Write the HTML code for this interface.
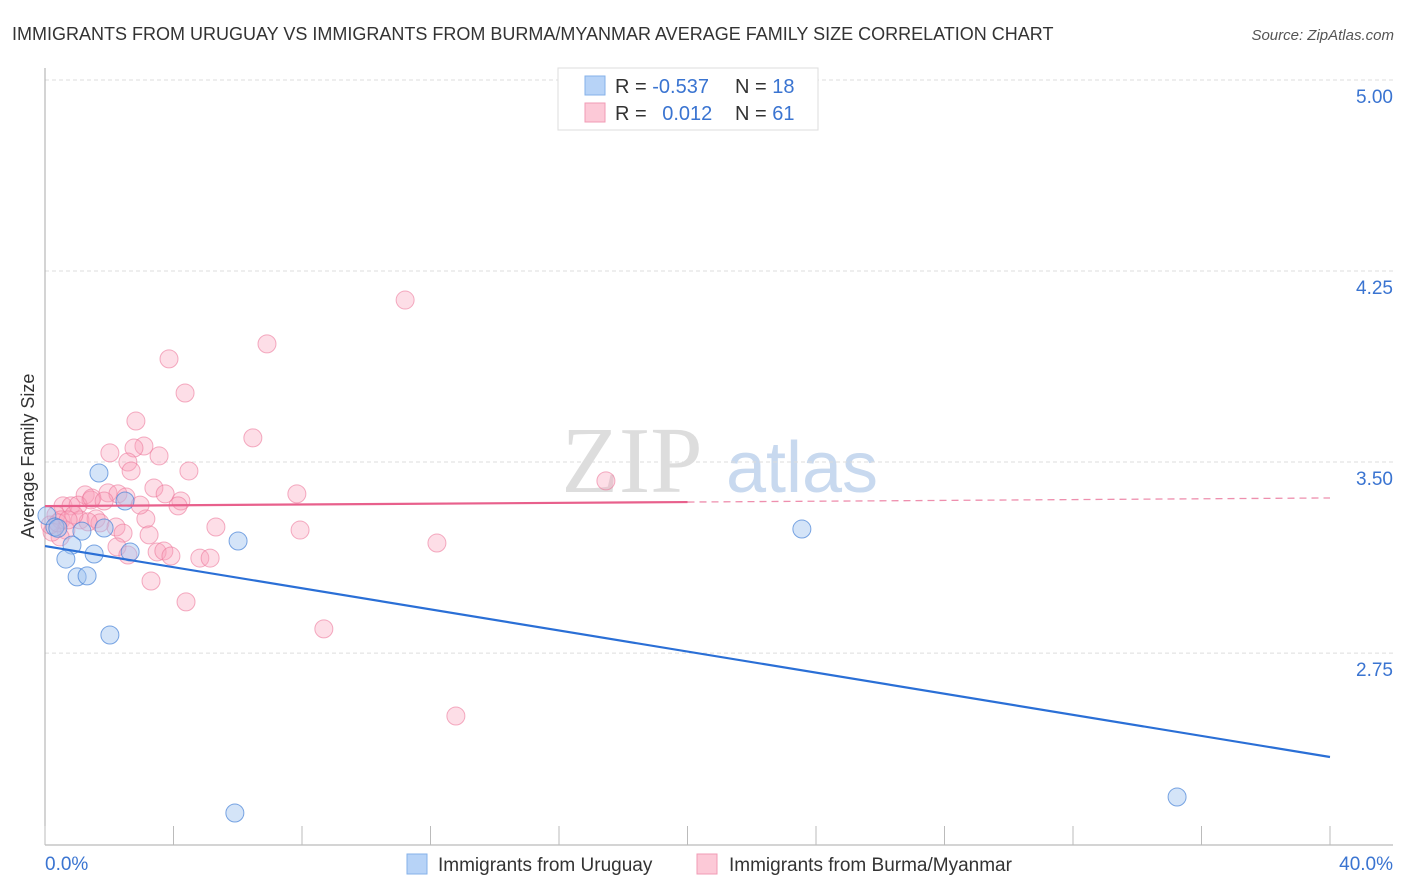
<!DOCTYPE html>
<html><head><meta charset="utf-8">
<style>
body{margin:0;background:#fff;font-family:"Liberation Sans",sans-serif;}
svg{display:block}
</style></head>
<body>
<svg id="chart" width="1406" height="892" xmlns="http://www.w3.org/2000/svg">
<text x="12" y="40" font-size="18" fill="#333">IMMIGRANTS FROM URUGUAY VS IMMIGRANTS FROM BURMA/MYANMAR AVERAGE FAMILY SIZE CORRELATION CHART</text>
<text x="1394" y="40" font-size="15" fill="#555" font-style="italic" text-anchor="end">Source: ZipAtlas.com</text>
<g>
<text x="632" y="492" font-family="Liberation Serif,serif" font-size="94" fill="#ddd" text-anchor="middle">ZIP</text>
<text x="802" y="492" font-size="72" fill="#c8d9ef" text-anchor="middle">atlas</text>
</g>
<g id="grid"></g>
<g id="axes"></g>
<g id="marks"></g>
<text transform="translate(34,456) rotate(-90)" font-size="18" fill="#333" text-anchor="middle">Average Family Size</text>
<g>
<rect x="558" y="68" width="260" height="62" fill="#fff" stroke="#ddd"/>
<rect x="585" y="76" width="20" height="19" fill="#b7d3f7" stroke="#86b1e9"/>
<rect x="585" y="103" width="20" height="19" fill="#fcc9d7" stroke="#f19bb4"/>
<text x="615" y="93" font-size="20" fill="#333">R = <tspan fill="#3a74d1">-0.537</tspan></text>
<text x="735" y="93" font-size="20" fill="#333">N = <tspan fill="#3a74d1">18</tspan></text>
<text x="615" y="120" font-size="20" fill="#333">R = <tspan fill="#3a74d1" dx="10">0.012</tspan></text>
<text x="735" y="120" font-size="20" fill="#333">N = <tspan fill="#3a74d1">61</tspan></text>
</g>
<g>
<rect x="407" y="854" width="20" height="20" fill="#b7d3f7" stroke="#86b1e9"/>
<text x="438" y="871" font-size="19" fill="#333">Immigrants from Uruguay</text>
<rect x="697" y="854" width="20" height="20" fill="#fcc9d7" stroke="#f19bb4"/>
<text x="729" y="871" font-size="19" fill="#333">Immigrants from Burma/Myanmar</text>
</g>
</svg>
<script>
const yTicks=[5.00,4.25,3.50,2.75];
const yTickLabels=["5.00","4.25","3.50","2.75"];
const xTickCount=11;
const xTickLabels=["0.0%","40.0%"];
const uruguayX=[0.06,0.31,0.40,1.68,2.49,1.15,1.84,0.84,0.65,1.53,2.65,1.00,1.31,2.02,6.01,23.56,35.24,5.91];
const uruguayY=[3.29,3.245,3.24,3.457,3.347,3.229,3.241,3.174,3.119,3.139,3.147,3.049,3.053,2.821,3.190,3.237,2.185,2.122];
const burmaX=[11.21,6.91,3.86,4.36,2.83,6.47,3.08,2.77,3.55,2.58,2.02,4.48,2.68,17.46,3.39,7.84,3.74,4.23,4.14,1.96,2.27,2.52,1.25,1.43,0.56,0.81,1.03,1.46,1.84,0.34,0.50,1.09,1.59,1.71,3.14,5.32,7.94,0.65,0.47,0.22,0.16,2.21,3.24,2.43,2.24,2.58,3.49,3.70,3.92,4.82,5.14,12.20,3.30,4.39,8.68,12.79,1.34,0.90,0.40,0.72,2.96];
const burmaY=[4.136,3.964,3.905,3.771,3.661,3.595,3.563,3.555,3.524,3.500,3.536,3.465,3.465,3.426,3.398,3.375,3.375,3.347,3.328,3.379,3.375,3.363,3.371,3.351,3.328,3.328,3.331,3.359,3.347,3.292,3.273,3.273,3.277,3.261,3.277,3.245,3.233,3.233,3.206,3.225,3.253,3.245,3.214,3.221,3.167,3.135,3.147,3.151,3.131,3.123,3.123,3.182,3.033,2.951,2.845,2.503,3.265,3.292,3.261,3.273,3.331];
const uruguayTrend=[3.170,2.342];
const burmaTrend=[3.327,3.359];
const burmaSolidEnd=20;

const NS="http://www.w3.org/2000/svg";
const X0=45,X1=1330,Y5=80,PXU=254.7;
function xs(v){return X0+(v/40)*(X1-X0);}
function ys(v){return Y5+(5-v)*PXU;}
function mk(tag,attrs,parent){const e=document.createElementNS(NS,tag);for(const k in attrs)e.setAttribute(k,attrs[k]);parent.appendChild(e);return e;}
const grid=document.getElementById('grid'),axes=document.getElementById('axes'),marks=document.getElementById('marks');
yTicks.forEach((t,i)=>{
  const l=mk('line',{x1:45,x2:1393,y1:ys(t),y2:ys(t),stroke:'#ddd','stroke-dasharray':'4,3'},grid);
  
  
  const tx=mk('text',{x:1393,y:ys(t)+23,'font-size':19,fill:'#3a74d1','text-anchor':'end'},axes);
  tx.textContent=yTickLabels[i];
  
  
});
const la=mk('line',{x1:45,x2:45,y1:68,y2:845,stroke:'#aaa'},axes);


const ba=mk('line',{x1:45,x2:1393,y1:845,y2:845,stroke:'#aaa'},axes);


for(let i=0;i<xTickCount;i++){
  const v=i*40/(xTickCount-1);
  const t=mk('line',{x1:xs(v),x2:xs(v),y1:826,y2:845,stroke:'#bbb'},axes);
  
  
}
const xl0=mk('text',{x:45,y:870,'font-size':19,fill:'#3a74d1'},axes);
xl0.textContent=xTickLabels[0];


const xl1=mk('text',{x:1393,y:870,'font-size':19,fill:'#3a74d1','text-anchor':'end'},axes);
xl1.textContent=xTickLabels[1];



burmaX.forEach((x,i)=>{
  const c=mk('circle',{cx:xs(x),cy:ys(burmaY[i]),r:9,fill:'rgba(248,160,186,0.35)',stroke:'rgba(236,120,155,0.6)','stroke-width':1},marks);
  
  
});
uruguayX.forEach((x,i)=>{
  const c=mk('circle',{cx:xs(x),cy:ys(uruguayY[i]),r:9,fill:'rgba(160,196,240,0.45)',stroke:'rgba(70,130,215,0.7)','stroke-width':1},marks);
  
  
});
function ty(tr,x){return tr[0]+(tr[1]-tr[0])*x/40;}
const ut=mk('line',{x1:xs(0),y1:ys(uruguayTrend[0]),x2:xs(40),y2:ys(uruguayTrend[1]),stroke:'#2a6fd6','stroke-width':2.2},marks);


const bt=mk('line',{x1:xs(0),y1:ys(burmaTrend[0]),x2:xs(burmaSolidEnd),y2:ys(ty(burmaTrend,burmaSolidEnd)),stroke:'#e8608c','stroke-width':2.2},marks);


const bd=mk('line',{x1:xs(burmaSolidEnd),y1:ys(ty(burmaTrend,burmaSolidEnd)),x2:xs(40),y2:ys(burmaTrend[1]),stroke:'#e8608c','stroke-width':1.3,'stroke-dasharray':'7,5','opacity':0.7},marks);


</script>
</body></html>
